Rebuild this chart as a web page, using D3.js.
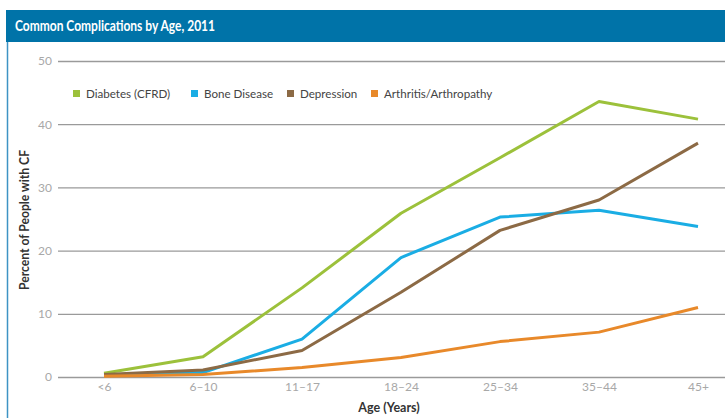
<!DOCTYPE html>
<html>
<head>
<meta charset="utf-8">
<script src="https://cdn.jsdelivr.net/npm/d3@7/dist/d3.min.js"></script>
<style>
  html, body { margin: 0; padding: 0; background: #fff; }
  svg { display: block; }
</style>
</head>
<body>
<svg id="chart" width="725" height="418"></svg>
<script>
// Age groups along the x axis
const ageGroups = ["<6", "6–10", "11–17", "18–24", "25–34", "35–44", "45+"];

// Percent of people with CF, per age group
const diabetes   = [0.6, 3.2, 14.1, 25.9, 34.7, 43.6, 40.8];
const boneDisease = [0.3, 0.7, 6.0, 18.9, 25.3, 26.4, 23.8];
const depression = [0.4, 1.1, 4.2, 13.4, 23.2, 28.0, 37.0];
const arthritis  = [0.1, 0.4, 1.5, 3.1, 5.6, 7.1, 11.0];

const seriesNames = ["Diabetes (CFRD)", "Bone Disease", "Depression", "Arthritis/Arthropathy"];
const seriesColors = ["#9cc13b", "#1aade4", "#8c6a45", "#e8892a"];
const seriesValues = [diabetes, boneDisease, depression, arthritis];

const yTicks = [0, 10, 20, 30, 40, 50];

const font = "Lato, 'Open Sans', sans-serif";
const svg = d3.select("#chart");

// Header band with title
svg.append("rect")
  .attr("x", 6).attr("y", 10).attr("width", 719).attr("height", 32)
  .attr("fill", "#0073a8");
svg.append("text")
  .attr("x", 15).attr("y", 31)
  .attr("fill", "#fff")
  .attr("font-family", font)
  .attr("font-weight", "bold")
  .attr("font-size", 15)
  .attr("textLength", 200)
  .attr("lengthAdjust", "spacingAndGlyphs")
  .text("Common Complications by Age, 2011");

// Panel left border
svg.append("line")
  .attr("x1", 7.5).attr("x2", 7.5).attr("y1", 42).attr("y2", 418)
  .attr("stroke", "#3d93c4").attr("stroke-width", 1.5);

const x = d3.scalePoint().domain(ageGroups).range([104, 698]);
const y = d3.scaleLinear().domain([0, 50]).range([377, 61]);

// Horizontal gridlines and y tick labels
const yAxis = d3.axisLeft(y).tickValues(yTicks).tickSize(-(725 - 58)).tickPadding(6);
const gy = svg.append("g").attr("transform", "translate(58,0)").call(yAxis);
gy.select(".domain").remove();
gy.selectAll(".tick line").attr("stroke", "#9a9a9a").attr("stroke-width", 1.3);
gy.selectAll(".tick text")
  .attr("fill", "#a8a8a8")
  .attr("font-family", font)
  .attr("font-size", 12)
  .attr("x", -6);

// X tick labels
const xAxis = d3.axisBottom(x).tickSize(0).tickPadding(5);
const gx = svg.append("g").attr("transform", "translate(0,377)").call(xAxis);
gx.select(".domain").remove();
gx.selectAll(".tick text")
  .attr("fill", "#a8a8a8")
  .attr("font-family", font)
  .attr("font-size", 12);

// Axis titles
svg.append("text")
  .attr("x", 389).attr("y", 412)
  .attr("text-anchor", "middle")
  .attr("fill", "#333")
  .attr("font-family", font)
  .attr("font-weight", "bold")
  .attr("font-size", 12.5)
  .text("Age (Years)");
svg.append("text")
  .attr("transform", "translate(29,220) rotate(-90)")
  .attr("text-anchor", "middle")
  .attr("fill", "#333")
  .attr("font-family", font)
  .attr("font-weight", "bold")
  .attr("font-size", 12.5)
  .attr("textLength", 140)
  .attr("lengthAdjust", "spacingAndGlyphs")
  .text("Percent of People with CF");

// Series lines
const line = d3.line()
  .x((d, i) => x(ageGroups[i]))
  .y(d => y(d));

svg.append("g").selectAll("path")
  .data(seriesValues)
  .join("path")
  .attr("d", line)
  .attr("fill", "none")
  .attr("stroke", (d, i) => seriesColors[i])
  .attr("stroke-width", 3)
  .attr("stroke-linejoin", "round");

// Legend
const legendX = [73, 191, 287, 371];
const legend = svg.append("g").selectAll("g")
  .data(seriesNames)
  .join("g")
  .attr("transform", (d, i) => `translate(${legendX[i]},90)`);
legend.append("rect")
  .attr("width", 7).attr("height", 7)
  .attr("fill", (d, i) => seriesColors[i]);
legend.append("text")
  .attr("x", 13).attr("y", 7.5)
  .attr("fill", "#444")
  .attr("font-family", font)
  .attr("font-size", 11.6)
  .text(d => d);
</script>
</body>
</html>
